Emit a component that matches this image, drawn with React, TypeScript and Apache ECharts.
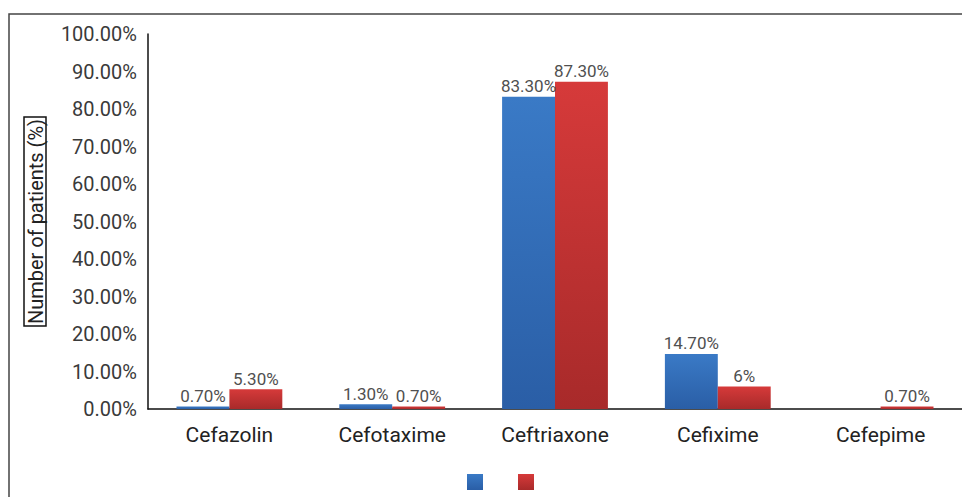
import React, { useEffect, useRef } from "react";
import * as echarts from "echarts";

const categories = ["Cefazolin", "Cefotaxime", "Ceftriaxone", "Cefixime", "Cefepime"];
const seriesA = [0.7, 1.3, 83.3, 14.7, null];
const seriesB = [5.3, 0.7, 87.3, 6, 0.7];
const labelsA = ["0.70%", "1.30%", "83.30%", "14.70%", ""];
const labelsB = ["5.30%", "0.70%", "87.30%", "6%", "0.70%"];
const seriesNames = ["Series A", "Series B"];

export default function App() {
  const ref = useRef<HTMLDivElement>(null);
  useEffect(() => {
    if (!ref.current) return;
    const chart = echarts.init(ref.current, undefined, { renderer: "svg" });
    const font = "Roboto, 'Noto Sans', sans-serif";
    const blue = new echarts.graphic.LinearGradient(0, 0, 0, 1, [
      { offset: 0, color: "#3a7ac6" },
      { offset: 1, color: "#2a5ea6" },
    ]);
    const red = new echarts.graphic.LinearGradient(0, 0, 0, 1, [
      { offset: 0, color: "#d63a3a" },
      { offset: 1, color: "#a82a2a" },
    ]);
    chart.setOption({
      animation: false,
      backgroundColor: "#ffffff",
      textStyle: { fontFamily: font },
      graphic: [
        {
          type: "rect",
          shape: { x: 9, y: 14, width: 980, height: 520 },
          style: { fill: "none", stroke: "#444", lineWidth: 1.5 },
          silent: true,
          z: -10,
        },
      ],
      legend: {
        data: seriesNames,
        top: 474,
        left: 467,
        icon: "rect",
        itemWidth: 16,
        itemHeight: 16,
        itemGap: 35,
        formatter: () => "",
        textStyle: { fontSize: 1 },
        padding: 0,
      },
      grid: { left: 148, right: 0, top: 34, bottom: 88, containLabel: false },
      xAxis: {
        type: "category",
        data: categories,
        axisLine: { lineStyle: { color: "#111", width: 1.5 } },
        axisTick: { show: false },
        axisLabel: { color: "#222", fontSize: 21, margin: 15, fontFamily: font },
      },
      yAxis: {
        type: "value",
        min: 0,
        max: 100,
        interval: 10,
        name: "Number of patients (%)",
        nameLocation: "middle",
        nameRotate: 90,
        nameGap: 102,
        nameTextStyle: {
          color: "#222",
          fontSize: 20,
          fontFamily: font,
          borderColor: "#111",
          borderWidth: 1.5,
          padding: [2, 2, 0, 2],
        },
        axisLine: { show: true, lineStyle: { color: "#111", width: 1.5 } },
        axisTick: { show: false },
        splitLine: { show: false },
        axisLabel: {
          color: "#3a3a3a",
          fontSize: 20,
          margin: 11,
          fontFamily: font,
          formatter: (v: number) => v.toFixed(2) + "%",
        },
      },
      series: [
        {
          name: seriesNames[0],
          type: "bar",
          data: seriesA,
          barGap: "0%",
          barCategoryGap: "35%",
          itemStyle: { color: blue },
          label: {
            show: true,
            position: "top",
            distance: 2,
            color: "#505050",
            fontSize: 17,
            fontFamily: font,
            formatter: (p: any) => labelsA[p.dataIndex],
          },
        },
        {
          name: seriesNames[1],
          type: "bar",
          data: seriesB,
          barGap: "0%",
          barCategoryGap: "35%",
          itemStyle: { color: red },
          label: {
            show: true,
            position: "top",
            distance: 2,
            color: "#505050",
            fontSize: 17,
            fontFamily: font,
            formatter: (p: any) => labelsB[p.dataIndex],
          },
        },
      ],
    });
    return () => chart.dispose();
  }, []);
  return (
    <div
      ref={ref}
      style={{ position: "fixed", left: 0, top: 0, width: 962, height: 497 }}
    />
  );
}
